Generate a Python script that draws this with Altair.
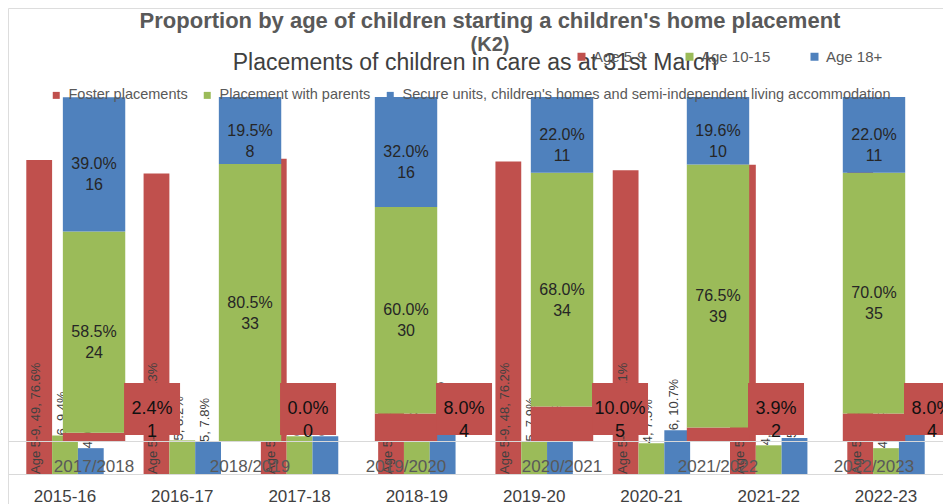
import altair as alt
import pandas as pd

# ---------------- Chart A: Proportion by age (K2) ----------------
years_a = ["2015-16", "2016-17", "2017-18", "2018-19", "2019-20", "2020-21", "2021-22", "2022-23"]
ages = ["Age 5-9", "Age 10-15", "Age 18+"]
age_5_9 = [76.6, 73.3, 76.9, 75.0, 76.2, 74.1, 75.4, 76.2]
age_10_15 = [9.4, 8.2, 9.2, 8.3, 7.9, 7.5, 7.0, 6.3]
age_18 = [6.3, 7.8, 9.2, 10.0, 7.9, 10.7, 8.8, 9.5]
labels_5_9 = ["Age 5-9, 49, 76.6%", "Age 5-9, 44, 73.3%", "Age 5-9, 50, 76.9%", "Age 5-9, 45, 75.0%",
              "Age 5-9, 48, 76.2%", "Age 5-9, 43, 74.1%", "Age 5-9, 43, 75.4%", "Age 5-9, 48, 76.2%"]
labels_10_15 = ["6, 9.4%", "5, 8.2%", "6, 9.2%", "5, 8.3%", "5, 7.9%", "4, 7.5%", "4, 7.0%", "4, 6.3%"]
labels_18 = ["4, 6.3%", "5, 7.8%", "6, 9.2%", "6, 10.0%", "5, 7.9%", "6, 10.7%", "5, 8.8%", "6, 9.5%"]

# ---------------- Chart B: Placements of children in care ----------------
years_b = ["2017/2018", "2018/2019", "2019/2020", "2020/2021", "2021/2022", "2022/2023"]
ptypes = ["Foster placements", "Placement with parents",
          "Secure units, children's homes and semi-independent living accommodation"]
foster_pct = [2.4, 0.0, 8.0, 10.0, 3.9, 8.0]
foster_n = [1, 0, 4, 5, 2, 4]
parents_pct = [58.5, 80.5, 60.0, 68.0, 76.5, 70.0]
parents_n = [24, 33, 30, 34, 39, 35]
secure_pct = [39.0, 19.5, 32.0, 22.0, 19.6, 22.0]
secure_n = [16, 8, 16, 11, 10, 11]

TITLE_A = "Proportion by age of children starting a children's home placement"
TITLE_A2 = "(K2)"
TITLE_B = "Placements of children in care as at 31st March"

RED, GREEN, BLUE = "#C0504D", "#9BBB59", "#4F81BD"
FONT = "Liberation Sans"
W, H = 935, 496

# ---- tables ----
rows_a = []
for i, yr in enumerate(years_a):
    for age, vals, labs in zip(ages, [age_5_9, age_10_15, age_18], [labels_5_9, labels_10_15, labels_18]):
        frac = vals[i] / 100.0
        rows_a.append({"year": yr, "age": age, "frac": frac,
                       "ylab": 0.0 if age == ages[0] else frac, "label": labs[i]})
df_a = pd.DataFrame(rows_a)

rows_b = []
for i, yr in enumerate(years_b):
    base = 0.0
    for pt, pcts, ns in zip(ptypes, [foster_pct, parents_pct, secure_pct], [foster_n, parents_n, secure_n]):
        f = pcts[i] / 100.0
        rows_b.append({"year": yr, "ptype": pt, "y0": base, "y1": base + f, "mid": base + f / 2,
                       "label": f"{pcts[i]:.1f}%\n{ns[i]}"})
        base += f
df_b = pd.DataFrame(rows_b)
df_b_seg = df_b[df_b["ptype"] != ptypes[0]]
df_b_box = df_b[df_b["ptype"] == ptypes[0]]

# ---- scales ----
xa_scale = alt.Scale(domain=years_a, paddingInner=0.34, paddingOuter=0.156, align=0.5)
ya_scale = alt.Scale(domain=[-0.07317, 1.13659], nice=False, zero=False)
xb_scale = alt.Scale(domain=years_b, paddingInner=0.6, paddingOuter=0.297, align=0.592)
yb_scale = alt.Scale(domain=[-0.18314, 1.25872], nice=False, zero=False)
xoff_scale = alt.Scale(domain=ages, paddingInner=0, paddingOuter=0)

axis_a = alt.Axis(title=None, orient="bottom", offset=-30, labelAngle=0, labelFontSize=17,
                  labelColor="#404040", labelPadding=14, ticks=False, tickSize=0,
                  domainColor="#d9d9d9", grid=False, labelFont=FONT)
axis_b = alt.Axis(title=None, orient="bottom", offset=-63, labelAngle=0, labelFontSize=17,
                  labelColor="#595959", labelPadding=17, ticks=False, tickSize=0,
                  domainColor="#d9d9d9", grid=False, labelFont=FONT, zindex=1)

xa = alt.X("year:N", sort=years_a, scale=xa_scale, axis=axis_a)
xb = alt.X("year:N", sort=years_b, scale=xb_scale, axis=axis_b)

bars_a = alt.Chart(df_a).mark_bar().encode(
    x=xa,
    xOffset=alt.XOffset("age:N", sort=ages, scale=xoff_scale),
    y=alt.Y("frac:Q", scale=ya_scale, axis=None),
    color=alt.Color("age:N", sort=ages, scale=alt.Scale(domain=ages, range=[RED, GREEN, BLUE]),
                    legend=alt.Legend(title=None, orient="none", legendX=566, legendY=41,
                                      direction="horizontal", symbolType="square", symbolSize=64,
                                      symbolStrokeWidth=0, labelFontSize=15, labelColor="#595959",
                                      labelFont=FONT, columnPadding=36, labelOffset=4, padding=0)),
)
labels_a = alt.Chart(df_a).mark_text(angle=270, align="left", baseline="middle", dy=-3,
                                     fontSize=13, color="#404040", font=FONT).encode(
    x=xa,
    xOffset=alt.XOffset("age:N", sort=ages, scale=xoff_scale),
    y=alt.Y("ylab:Q", scale=ya_scale, axis=None),
    text="label:N",
)
chart_a = alt.layer(bars_a, labels_a)

bars_b = alt.Chart(df_b).mark_bar().encode(
    x=xb,
    y=alt.Y("y0:Q", scale=yb_scale, axis=None),
    y2="y1:Q",
    color=alt.Color("ptype:N", sort=ptypes, scale=alt.Scale(domain=ptypes, range=[RED, GREEN, BLUE]),
                    legend=alt.Legend(title=None, orient="none", legendX=41, legendY=80,
                                      direction="horizontal", symbolType="square", symbolSize=49,
                                      symbolStrokeWidth=0, labelFontSize=14.5, labelColor="#595959",
                                      labelFont=FONT, columnPadding=12, labelOffset=5, padding=0,
                                      labelLimit=0)),
)
seg_labels_b = alt.Chart(df_b_seg).mark_text(lineBreak="\n", fontSize=16, lineHeight=21,
                                             color="#262626", baseline="middle", font=FONT).encode(
    x=xb,
    y=alt.Y("mid:Q", scale=yb_scale, axis=None),
    text="label:N",
)
BOX_PATH = "M1.154,-1H3.308V1H1.154Z"
boxes_b = alt.Chart(df_b_box).mark_point(shape=BOX_PATH, size=2704, filled=True, opacity=1,
                                         color=RED, strokeWidth=0).encode(
    x=xb,
    y=alt.YDatum(0.093, scale=yb_scale, axis=None),
)
box_text_b = alt.Chart(df_b_box).mark_text(lineBreak="\n", fontSize=18, lineHeight=23, dx=58,
                                           color="#111111", baseline="middle", font=FONT).encode(
    x=xb,
    y=alt.YDatum(0.093, scale=yb_scale, axis=None),
    text="label:N",
)
chart_b = alt.layer(bars_b, seg_labels_b, boxes_b, box_text_b)

def title_text(txt, x, y, size, weight, color):
    return alt.Chart(pd.DataFrame({"t": [txt]})).mark_text(
        fontSize=size, fontWeight=weight, color=color, font=FONT, align="center", baseline="middle"
    ).encode(text="t:N", x=alt.value(x), y=alt.value(y))

t1 = title_text(TITLE_A, 482, 13, 22, "bold", "#595959")
t2 = title_text(TITLE_A2, 482, 37, 20, "bold", "#595959")
t3 = title_text(TITLE_B, 467, 55, 23, "normal", "#404040")

chart = alt.layer(chart_a, chart_b, t1, t2, t3).resolve_scale(
    x="independent", y="independent", color="independent"
).properties(
    width=W, height=H, autosize=alt.AutoSizeParams(type="none"),
    padding={"left": 0, "top": 0, "right": 0, "bottom": 0},
).configure_view(stroke=None).configure(font=FONT, background="white")

chart.save("out.html", embed_options={"renderer": "svg", "actions": False})
